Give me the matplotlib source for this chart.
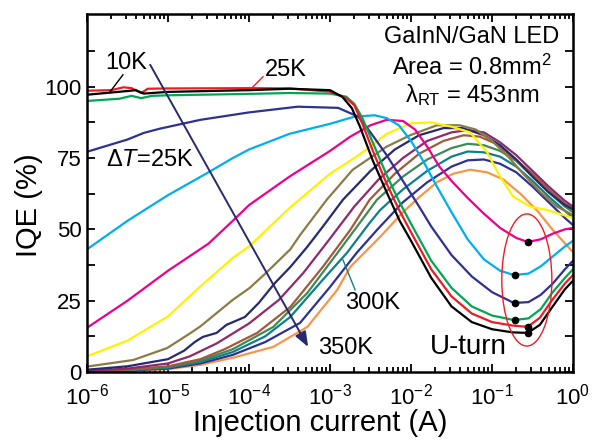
import numpy as np
import matplotlib
matplotlib.use("Agg")
import matplotlib.pyplot as plt
from matplotlib.patches import Ellipse

plt.rcParams['font.family'] = ['Liberation Sans', 'DejaVu Sans']
plt.rcParams['mathtext.fontset'] = 'custom'
plt.rcParams['mathtext.rm'] = 'Liberation Sans'
plt.rcParams['mathtext.it'] = 'Liberation Sans:italic'
plt.rcParams['mathtext.bf'] = 'Liberation Sans:bold'

# ---------------- data (log10 of current in A, IQE in %) ----------------
temps = ['10K', '25K', '50K', '75K', '100K', '125K', '150K', '175K',
         '200K', '225K', '250K', '275K', '300K', '325K', '350K']
colors = ['#000000', '#ed1c24', '#00a651', '#2e3192', '#00aeef', '#ec008c',
          '#fff200', '#8c7b45', '#262a6e', '#8e2a6a', '#a05a3c', '#3f8a58',
          '#0f7f8a', '#2e3192', '#f7964a']

logI_10K = [-6, -5.5, -5.4, -5.3, -5, -4.5, -4, -3.5, -3, -2.85, -2.73, -2.63, -2.47, -2.3, -2.14, -2.0,
            -1.75, -1.5, -1.25, -1.0, -0.75, -0.56, -0.41, -0.25, -0.1, 0]
iqe_10K = [97.2, 98.5, 98.8, 97.6, 98.2, 98.5, 98.8, 99.3, 98.8, 96.5, 92.5, 86, 74, 63, 53, 46,
           33, 23, 17.5, 15, 13.9, 13.7, 16.5, 23, 29, 32]

logI_25K = [-6, -5.7, -5.55, -5.45, -5.33, -5.25, -5, -4, -3.5, -3, -2.8, -2.7, -2.6, -2.45, -2.3,
            -2.15, -2.0, -1.75, -1.5, -1.25, -1.0, -0.75, -0.56, -0.41, -0.25, -0.1, 0]
iqe_25K = [98.6, 98.8, 99.8, 99.5, 97.8, 99.3, 99.4, 99.5, 99.4, 98.3, 96, 93.5, 87, 76, 66,
           57, 49, 36, 26.5, 20.5, 17.5, 16.3, 15.8, 19, 25.5, 31, 34]

logI_50K = [-6, -5.6, -5.45, -5.33, -5.2, -5, -4, -3.5, -3, -2.8, -2.7, -2.6, -2.45, -2.3, -2.15,
            -2.0, -1.75, -1.5, -1.25, -1.0, -0.73, -0.55, -0.4, -0.25, -0.1, 0]
iqe_50K = [95, 95.8, 96.8, 96, 96.8, 97, 97.5, 97.8, 97.6, 96.5, 94, 89, 79, 69, 60,
           52, 39, 29.5, 23, 19.8, 18.2, 18.8, 22, 28, 33, 36]

logI_75K = [-6, -5.5, -5.3, -5.1, -4.6, -4, -3.4, -2.9, -2.65, -2.5, -2.3, -2.1, -1.9, -1.75,
            -1.5, -1.25, -1.0, -0.73, -0.55, -0.4, -0.25, -0.1, 0]
iqe_75K = [77.2, 81.5, 83.8, 85.3, 88.4, 91, 93, 92.6, 89.5, 84, 76, 67, 58, 51,
           41, 33.5, 28, 24.2, 24.5, 27, 31, 36, 39]

logI_100K = [-6, -5.5, -5, -4.5, -4.2, -4, -3.5, -3, -2.7, -2.45, -2.3, -2.15, -2.0, -1.85, -1.7,
             -1.5, -1.3, -1.1, -0.9, -0.73, -0.55, -0.4, -0.25, -0.1, 0]
iqe_100K = [43, 53, 62, 70, 75, 78, 83.5, 87, 89.5, 90, 89, 86.5, 81, 74, 66,
            56, 46.5, 39.5, 35.5, 34, 34.5, 37, 40.5, 44, 46]

logI_125K = [-6, -5.5, -5, -4.5, -4.2, -4, -3.5, -3, -2.75, -2.5, -2.3, -2.1, -1.95, -1.8, -1.65,
             -1.5, -1.3, -1.1, -0.9, -0.7, -0.56, -0.4, -0.25, -0.1, 0]
iqe_125K = [15.5, 25, 35.5, 45, 53, 58.5, 68.5, 77.5, 82.5, 86.5, 88.4, 88, 85, 79, 72,
            67, 61, 55.5, 50.5, 47, 45.6, 46.5, 48.5, 50, 50.5]

logI_150K = [-6, -5.5, -5, -4.6, -4.2, -4, -3.5, -3, -2.7, -2.5, -2.3, -2.0, -1.75, -1.5, -1.27,
             -1.06, -0.9, -0.74, -0.53, -0.32, 0]
iqe_150K = [5.5, 11, 19.5, 30, 40, 44, 57.5, 69.5, 75, 79, 83.5, 87.2, 87.5, 86, 84,
            77, 68.5, 61.5, 58, 56.8, 54]

logI_175K = [-6, -5.43, -5.01, -4.73, -4.6, -4.2, -3.99, -3.78, -3.49, -3.37, -3.04, -2.72, -2.3,
             -2.01, -1.68, -1.4, -1.2, -1.0, -0.8, -0.6, -0.4, -0.2, 0]
iqe_175K = [1.9, 4.2, 8.4, 13.5, 16, 25.3, 29.5, 35, 43, 48, 60.4, 70.9, 79,
            83, 86.5, 86.5, 85, 81, 75.5, 69, 63, 58, 55]

logI_200K = [-6, -5.5, -5.0, -4.8, -4.67, -4.57, -4.4, -4.28, -4.05, -3.88, -3.68, -3.49, -3.28,
             -3.09, -2.84, -2.5, -2.2, -1.9, -1.6, -1.36, -1.1, -0.9, -0.7, -0.5, -0.3, -0.1, 0]
iqe_200K = [0.8, 2, 4.5, 7.5, 10.5, 12.3, 13.7, 16.5, 19.3, 24.2, 31.2, 36.8, 43.9,
            50.9, 60.4, 70.5, 78, 83, 85.5, 85.5, 83, 79.5, 74.5, 68.5, 63, 58.5, 57]

logI_225K = [-6, -5.5, -5, -4.73, -4.4, -4.0, -3.63, -3.33, -3.04, -2.7, -2.4, -2.1, -1.8, -1.5,
             -1.3, -1.1, -0.9, -0.7, -0.5, -0.3, -0.1, 0]
iqe_225K = [0.4, 1.2, 3, 5.5, 10, 17, 25.3, 34.7, 45.3, 58, 67.5, 75, 81, 84,
            84.8, 84, 80.5, 76, 70.5, 65, 60, 58]

logI_250K = [-6, -5.5, -5, -4.6, -4.3, -3.9, -3.49, -3.09, -2.75, -2.51, -2.2, -1.9, -1.6, -1.35,
             -1.15, -0.95, -0.75, -0.5, -0.3, -0.1, 0]
iqe_250K = [0.3, 0.8, 2, 4.5, 8, 13.7, 22.8, 36.8, 49.8, 60.4, 69.5, 76.5, 81, 83,
            82.5, 80, 75.5, 69.5, 64, 59, 57.5]

logI_275K = [-6, -5.5, -5, -4.6, -4.2, -3.7, -3.28, -2.88, -2.54, -2.42, -2.1, -1.8, -1.5, -1.3,
             -1.1, -0.9, -0.7, -0.5, -0.3, -0.1, 0]
iqe_275K = [0.3, 0.7, 1.8, 4, 8, 15.8, 27.7, 42.8, 55.8, 60.4, 68.5, 74.5, 78.5, 80,
            79.5, 77.5, 74, 68.5, 63, 58, 56]

logI_300K = [-6, -5.5, -5, -4.6, -4.2, -3.8, -3.49, -3.09, -2.79, -2.51, -2.38, -2.1, -1.8, -1.5,
             -1.3, -1.1, -0.9, -0.7, -0.5, -0.3, -0.1, 0]
iqe_300K = [0.3, 0.6, 1.5, 3.5, 7, 12.5, 19.3, 32.3, 41.8, 52.3, 56.8, 64, 70.5, 75.5,
            77.3, 77, 75.5, 72, 67, 61.5, 56.5, 54]

logI_325K = [-6, -5.5, -5, -4.6, -4.2, -3.8, -3.37, -3.0, -2.67, -2.42, -2.1, -1.8, -1.5, -1.3,
             -1.1, -0.9, -0.7, -0.5, -0.3, -0.1, 0]
iqe_325K = [0.2, 0.5, 1.2, 3, 6, 10.5, 17.2, 29.8, 41.8, 49.8, 59.5, 66.5, 72, 74.2,
            74.5, 73, 70, 65, 59.5, 54, 51.5]

logI_350K = [-6, -5.5, -5, -4.6, -4.2, -3.7, -3.28, -2.91, -2.75, -2.38, -2.1, -1.89, -1.68, -1.48,
             -1.27, -1.06, -0.86, -0.65, -0.44, -0.25, 0]
iqe_350K = [0.1, 0.4, 1, 2.5, 5, 8.8, 15.8, 28.8, 36.8, 47.4, 56, 61.5, 66.5, 69.5,
            70.9, 70, 67.5, 62.5, 56.5, 49.8, 42]

# U-turn minimum markers (A, %)
uturn_I = [0.28, 0.19, 0.19, 0.19, 0.28, 0.28]
uturn_iqe = [45.6, 34, 24.2, 18.2, 15.8, 13.7]

xtick_vals = [1e-6, 1e-5, 1e-4, 1e-3, 1e-2, 1e-1, 1e0]
ytick_vals = [0, 25, 50, 75, 100]

curves = [(logI_10K, iqe_10K), (logI_25K, iqe_25K), (logI_50K, iqe_50K), (logI_75K, iqe_75K),
          (logI_100K, iqe_100K), (logI_125K, iqe_125K), (logI_150K, iqe_150K),
          (logI_175K, iqe_175K), (logI_200K, iqe_200K), (logI_225K, iqe_225K),
          (logI_250K, iqe_250K), (logI_275K, iqe_275K), (logI_300K, iqe_300K),
          (logI_325K, iqe_325K), (logI_350K, iqe_350K)]

# ---------------- figure ----------------
fig = plt.figure(figsize=(5.95, 4.4), dpi=100)
ax = fig.add_axes([87/595, 1-372/440, 486/595, 358/440])

for (lx, y), c in zip(curves[::-1], colors[::-1]):
    ax.plot(10**np.array(lx), y, color=c, lw=1.6, solid_joinstyle='round')

ax.plot(uturn_I, uturn_iqe, 'o', color='black', ms=4.5, zorder=5)

ax.set_xscale('log')
ax.set_xlim(1e-6, 1e0)
ax.set_ylim(0, 125.5)
ax.set_xticks(xtick_vals)
ax.set_yticks(ytick_vals)
ax.set_yticks(np.arange(0, 125, 12.5), minor=True)
ax.xaxis.set_minor_locator(matplotlib.ticker.LogLocator(base=10, subs=np.arange(2, 10), numticks=20))
ax.xaxis.set_minor_formatter(matplotlib.ticker.NullFormatter())
ax.yaxis.set_minor_formatter(matplotlib.ticker.NullFormatter())
ax.tick_params(axis='both', which='both', direction='in', top=True, right=True, width=1.3)
ax.tick_params(axis='both', which='major', length=6, labelsize=16, pad=4)
ax.tick_params(axis='y', which='minor', length=6)
ax.tick_params(axis='x', which='minor', length=3.5)
ax.tick_params(axis='x', which='major', pad=8)
for s in ax.spines.values():
    s.set_linewidth(1.8)

fig.text(0.538, 1-423/440, 'Injection current (A)', fontsize=21, ha='center', va='center')
fig.text(29/595, 1-205/440, 'IQE (%)', fontsize=21, ha='center', va='center', rotation=90)

# annotations
ax.text(10**-5.78, 108.4, '10K', fontsize=17, ha='left', va='center')
ax.plot([10**-5.716, 10**-5.556], [98.2, 104.2], color='black', lw=1)
ax.text(10**-3.80, 106, '25K', fontsize=17, ha='left', va='center')
ax.plot([10**-3.963, 10**-3.827], [99.6, 103.5], color='#ed1c24', lw=1)
ax.text(10**-5.76, 74.4, r'Δ$T$=25K', fontsize=17, ha='left', va='center')
ax.text(10**-2.815, 24.2, '300K', fontsize=17, ha='left', va='center')
ax.plot([10**-2.84, 10**-2.69], [39.3, 28.8], color='#0f7f8a', lw=1)
ax.text(10**-3.148, 8.4, '350K', fontsize=17, ha='left', va='center')
ax.text(10**-1.765, 8.8, 'U-turn', fontsize=20, ha='left', va='center')

ax.annotate('', xy=(10**-3.27, 8.8), xytext=(10**-5.22, 107.7),
            arrowprops=dict(arrowstyle='-|>,head_length=0.9,head_width=0.35',
                            color='#262a6e', lw=1.4, shrinkA=0, shrinkB=0))

ax.add_patch(Ellipse((0.905, 0.257), 0.103, 0.369, transform=ax.transAxes,
                     fill=False, edgecolor='#ed1c24', lw=1.0, zorder=6))

ax.text(0.792, 0.936, 'GaInN/GaN LED', transform=ax.transAxes, fontsize=17, ha='center', va='center')
ax.text(0.792, 0.852, r'Area = 0.8mm$^{2}$', transform=ax.transAxes, fontsize=17, ha='center', va='center')
ax.text(0.792, 0.774, r'λ$_{\mathrm{RT}}$ = 453nm', transform=ax.transAxes, fontsize=17, ha='center', va='center')

fig.savefig('out.png', dpi=100)
